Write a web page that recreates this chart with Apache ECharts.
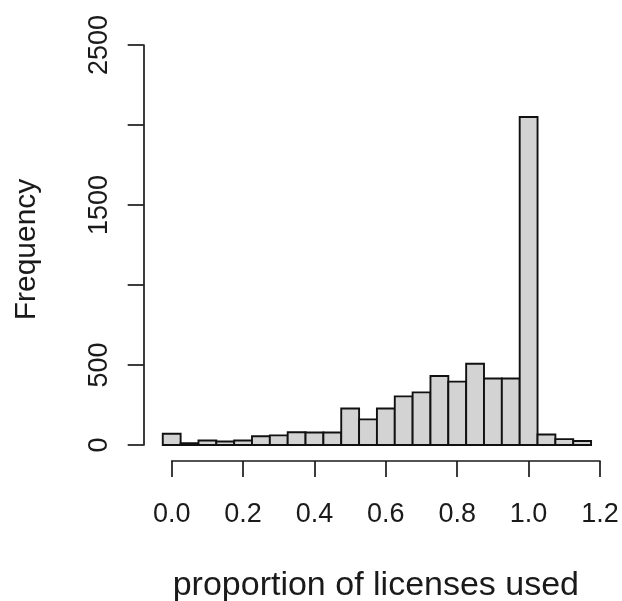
<!DOCTYPE html>
<html>
<head>
<meta charset="utf-8">
<script src="https://cdn.jsdelivr.net/npm/echarts@6/dist/echarts.min.js"></script>
<style>
html,body{margin:0;padding:0;background:#fff;}
#chart{width:622px;height:601px;}
</style>
</head>
<body>
<div id="chart"></div>
<script>
// Histogram bins (centres) and their counts
const binCenters = [0.00, 0.05, 0.10, 0.15, 0.20, 0.25, 0.30, 0.35, 0.40, 0.45, 0.50, 0.55,
                    0.60, 0.65, 0.70, 0.75, 0.80, 0.85, 0.90, 0.95, 1.00, 1.05, 1.10, 1.15];
const counts = [70, 12, 28, 22, 28, 55, 60, 80, 78, 78, 228, 160,
                228, 304, 329, 431, 396, 508, 416, 416, 2050, 66, 37, 25];
const binWidth = 0.05;
const xTicks = [0.0, 0.2, 0.4, 0.6, 0.8, 1.0, 1.2];
const yTicks = [0, 500, 1000, 1500, 2000, 2500];
const yTickLabelsShown = [0, 500, 1500, 2500];

const data = binCenters.map((c, i) => [c, counts[i]]);
const font = 'Liberation Sans, Arial, sans-serif';
const ink = '#1a1a1a';

const chart = echarts.init(document.getElementById('chart'), null, {renderer: 'canvas'});
chart.setOption({
  animation: false,
  backgroundColor: '#ffffff',
  grid: {left: 171.7, top: 45, width: 428.3, height: 400, containLabel: false, outerBoundsMode: 'none'},
  xAxis: {
    type: 'value',
    min: xTicks[0], max: xTicks[xTicks.length - 1], interval: 0.2,
    offset: 16,
    axisLine: {show: true, onZero: false, lineStyle: {color: ink, width: 1.7}},
    axisTick: {show: true, length: 16, lineStyle: {color: ink, width: 1.7}},
    splitLine: {show: false},
    axisLabel: {
      color: ink, fontFamily: font, fontSize: 27, margin: 40,
      formatter: v => v.toFixed(1)
    },
    name: 'proportion of licenses used',
    nameLocation: 'middle',
    nameGap: 108,
    nameMoveOverlap: false,
    nameTextStyle: {color: ink, fontFamily: font, fontSize: 34, padding: [0, 20, 0, 0]}
  },
  yAxis: {
    type: 'value',
    min: yTicks[0], max: yTicks[yTicks.length - 1], interval: 500,
    offset: 28,
    axisLine: {show: true, onZero: false, lineStyle: {color: ink, width: 1.7}},
    axisTick: {show: true, length: 16, lineStyle: {color: ink, width: 1.7}},
    splitLine: {show: false},
    axisLabel: {
      color: ink, fontFamily: font, fontSize: 27, margin: 31, rotate: 90,
      formatter: v => yTickLabelsShown.includes(v) ? String(v) : ''
    },
    name: 'Frequency',
    nameLocation: 'middle',
    nameGap: 102,
    nameRotate: 90,
    nameMoveOverlap: false,
    nameTextStyle: {color: ink, fontFamily: font, fontSize: 30, padding: [0, 9, 0, 0]}
  },
  series: [{
    type: 'custom',
    clip: false,
    data: data,
    renderItem: function (params, api) {
      const c = api.value(0), v = api.value(1);
      const p0 = api.coord([c - binWidth / 2, v]);
      const p1 = api.coord([c + binWidth / 2, 0]);
      return {
        type: 'rect',
        shape: {x: p0[0], y: p0[1], width: p1[0] - p0[0], height: p1[1] - p0[1]},
        style: {fill: '#d3d3d3', stroke: '#111', lineWidth: 1.9}
      };
    }
  }]
});
</script>
</body>
</html>
